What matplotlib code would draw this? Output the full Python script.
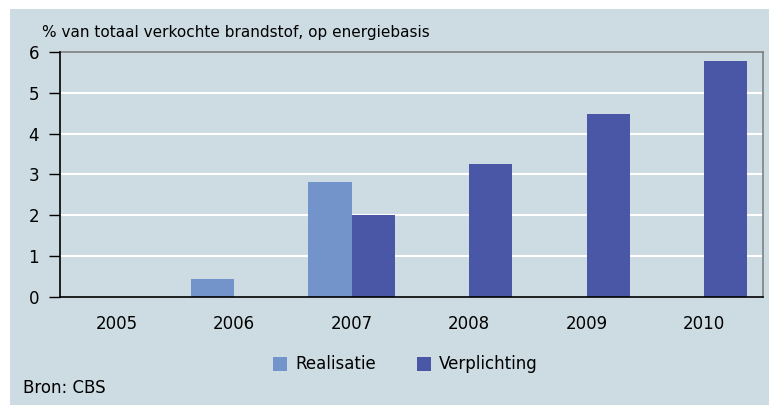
import numpy as np
import matplotlib.pyplot as plt
from matplotlib.patches import Rectangle

years        = ['2005', '2006', '2007', '2008', '2009', '2010']
realisatie   = [0, 0.44, 2.82, 0, 0, 0]
verplichting = [0, 0, 2.01, 3.26, 4.48, 5.78]
labels       = ['Realisatie', 'Verplichting']

bg     = '#cddce2'
c_real = '#7294cb'
c_verp = '#4957a6'

W, H = 769, 405
fig = plt.figure(figsize=(W/100, H/100), dpi=100, facecolor='white')
fig.add_artist(Rectangle((10/W, 0), 1 - 10/W, 1 - 9/H, transform=fig.transFigure,
                         facecolor=bg, edgecolor='none', zorder=-5))

ax = fig.add_axes([60/W, 1 - 297/H, 703/W, 245/H])
ax.set_facecolor(bg)

x  = np.arange(len(years))
bw = 0.367
ax.bar(x - bw/2, realisatie,   bw, color=c_real, zorder=3)
ax.bar(x + bw/2, verplichting, bw, color=c_verp, zorder=3)

ax.set_xlim(-0.48, len(years) - 0.5)
ax.set_ylim(0, 6)
ax.set_yticks(range(0, 7))
ax.set_xticks(x)
ax.set_xticklabels(years)

for y in range(1, 6):
    ax.axhline(y, color='white', lw=1.5, zorder=1)

for s in ['top', 'right']:
    ax.spines[s].set_color('#808080')
    ax.spines[s].set_linewidth(1.2)
for s in ['left', 'bottom']:
    ax.spines[s].set_color('black')
    ax.spines[s].set_linewidth(1.2)
    ax.spines[s].set_zorder(4)

ax.tick_params(axis='y', length=8, width=1, direction='out', pad=7, labelsize=12)
ax.tick_params(axis='x', length=0, pad=13, labelsize=12)

fig.text(42/W, 1 - 33/H, '% van totaal verkochte brandstof, op energiebasis',
         fontsize=11, va='center', ha='left')
fig.text(23/W, 1 - 388/H, 'Bron: CBS', fontsize=12, va='center', ha='left')

# legend, drawn by hand so the spacing follows the original
for px, col, lab in zip([273, 417], [c_real, c_verp], labels):
    fig.add_artist(Rectangle((px/W, 1 - 371/H), 14/W, 14/H, transform=fig.transFigure,
                             facecolor=col, edgecolor='none'))
    fig.text((px + 22)/W, 1 - 364/H, lab, fontsize=12, va='center', ha='left')

fig.savefig('out.png', dpi=100, facecolor='white')
